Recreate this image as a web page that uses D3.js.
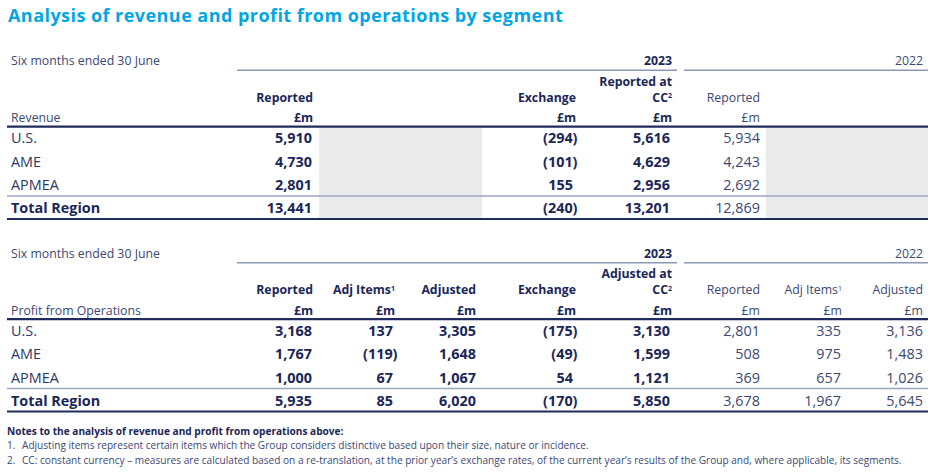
<!DOCTYPE html>
<html>
<head>
<meta charset="utf-8">
<script src="https://cdn.jsdelivr.net/npm/d3@7"></script>
<style>
  body { margin: 0; background: #fff; }
  svg text { font-family: "Open Sans", sans-serif; }
</style>
</head>
<body>
<svg id="chart" width="935" height="475"></svg>
<script>
// Data
var regions = ["U.S.", "AME", "APMEA", "Total Region"];

var revReported23 = [5910, 4730, 2801, 13441];
var revExchange23 = [-294, -101, 155, -240];
var revReportedCC23 = [5616, 4629, 2956, 13201];
var revReported22 = [5934, 4243, 2692, 12869];

var profReported23 = [3168, 1767, 1000, 5935];
var profAdjItems23 = [137, -119, 67, 85];
var profAdjusted23 = [3305, 1648, 1067, 6020];
var profExchange23 = [-175, -49, 54, -170];
var profAdjustedCC23 = [3130, 1599, 1121, 5850];
var profReported22 = [2801, 508, 369, 3678];
var profAdjItems22 = [335, 975, 657, 1967];
var profAdjusted22 = [3136, 1483, 1026, 5645];

var notes = [
    "Adjusting items represent certain items which the Group considers distinctive based upon their size, nature or incidence.",
    "CC: constant currency \u2013 measures are calculated based on a re-translation, at the prior year\u2019s exchange rates, of the current year\u2019s results of the Group and, where applicable, its segments."
];

var svg = d3.select('#chart');

var navy = '#1b2757', label = '#2c3862', light = '#3c4873';
var fmt = d3.format(',');
var fmtVal = (v) => v < 0 ? '(' + fmt(-v) + ')' : fmt(v);

// column slots: right edges of headers / numbers
var cols = ['rep', 'adj', 'adjd', 'exch', 'cc', 'rep22', 'adj22', 'adjd22'];
var headX = d3.scaleOrdinal().domain(cols).range([313, 395, 476, 576, 672, 760, 842, 923]);
var numX = d3.scaleOrdinal().domain(cols).range([312, 393, 476, 573, 670, 760, 841, 923]);
var rowY = d3.scaleLinear().domain([0, 3]).range([11.6, 81.6]);

svg.append('text')
    .attr('x', 8).attr('y', 21.7)
    .attr('fill', '#03a6e3')
    .style('font-size', '18px').style('font-weight', 700).style('letter-spacing', '0.45px')
    .text('Analysis of revenue and profit from operations by segment');

function drawTable(top, title, columns, shades) {
    var g = svg.append('g').attr('transform', 'translate(0,' + top + ')');

    // shading (behind everything)
    g.selectAll('rect.shade').data(shades).enter().append('rect')
        .attr('x', (d) => d[0]).attr('width', (d) => d[1] - d[0])
        .attr('y', 67).attr('height', 91)
        .attr('fill', '#ebebeb');

    // period header
    g.append('text').attr('x', 11).attr('y', 0).attr('dy', '0.35em')
        .attr('fill', light).style('font-size', '12.3px')
        .text('Six months ended 30 June');
    g.append('text').attr('x', 672).attr('y', 0).attr('dy', '0.35em')
        .attr('text-anchor', 'end').attr('fill', navy)
        .style('font-size', '12.3px').style('font-weight', 700).text('2023');
    g.append('text').attr('x', 923).attr('y', 0).attr('dy', '0.35em')
        .attr('text-anchor', 'end').attr('fill', light)
        .style('font-size', '12.3px').text('2022');
    g.append('line').attr('x1', 237).attr('x2', 677).attr('y1', 9.3).attr('y2', 9.3)
        .attr('stroke', '#8d97b6').attr('stroke-width', 1.5);
    g.append('line').attr('x1', 684).attr('x2', 928).attr('y1', 9.3).attr('y2', 9.3)
        .attr('stroke', '#8d97b6').attr('stroke-width', 1.5);

    g.append('text').attr('x', 11).attr('y', 56.7).attr('dy', '0.35em')
        .attr('fill', light).style('font-size', '12.3px').text(title);

    // column headers
    var heads = g.selectAll('g.col').data(columns).enter().append('g').attr('class', 'col');
    heads.each(function(c) {
        var h = d3.select(this);
        var weight = c.bold ? 700 : 400, colour = c.bold ? navy : light;
        c.head.forEach(function(line, i) {
            var t = h.append('text')
                .attr('x', headX(c.key))
                .attr('y', 36.3 - (c.head.length - 1 - i) * 16)
                .attr('dy', '0.35em').attr('text-anchor', 'end')
                .attr('fill', colour).style('font-size', '12.3px').style('font-weight', weight);
            t.append('tspan').text(line.text);
            if (line.sup)
                t.append('tspan').attr('dy', '-0.45em').style('font-size', '7px').text(line.sup);
        });
        h.append('text').attr('x', headX(c.key)).attr('y', 56.7).attr('dy', '0.35em')
            .attr('text-anchor', 'end').attr('fill', colour)
            .style('font-size', '12.3px').style('font-weight', weight).text('\u00a3m');

        // values
        h.selectAll('text.val').data(c.values).enter().append('text').classed('val', true)
            .attr('x', (d) => numX(c.key) + (d < 0 ? 4.5 : 0))
            .attr('y', (d, i) => 65.7 + rowY(i)).attr('dy', '0.35em')
            .attr('text-anchor', 'end').attr('fill', colour)
            .style('font-size', '14.4px').style('font-weight', weight)
            .text(fmtVal);
    });

    // row labels
    g.selectAll('text.row').data(regions).enter().append('text')
        .attr('x', 11).attr('y', (d, i) => 65.7 + rowY(i)).attr('dy', '0.35em')
        .attr('fill', (d, i) => i === 3 ? navy : label)
        .style('font-size', '14.4px').style('font-weight', (d, i) => i === 3 ? 700 : 400)
        .text((d) => d);

    // rules
    g.append('line').attr('x1', 7).attr('x2', 928).attr('y1', 65.7).attr('y2', 65.7)
        .attr('stroke', '#1f2b5a').attr('stroke-width', 2.2);
    g.append('line').attr('x1', 7).attr('x2', 928).attr('y1', 135).attr('y2', 135)
        .attr('stroke', '#9ca5c0').attr('stroke-width', 1.5);
    g.append('line').attr('x1', 7).attr('x2', 928).attr('y1', 158).attr('y2', 158)
        .attr('stroke', '#1f2b5a').attr('stroke-width', 2.2);
}

drawTable(61, 'Revenue', [
    {key: 'rep', bold: true, head: [{text: 'Reported'}], values: revReported23},
    {key: 'exch', bold: true, head: [{text: 'Exchange'}], values: revExchange23},
    {key: 'cc', bold: true, head: [{text: 'Reported at'}, {text: 'CC', sup: '2'}], values: revReportedCC23},
    {key: 'rep22', bold: false, head: [{text: 'Reported'}], values: revReported22}
], [[319, 482], [766, 928]]);

drawTable(253.5, 'Profit from Operations', [
    {key: 'rep', bold: true, head: [{text: 'Reported'}], values: profReported23},
    {key: 'adj', bold: true, head: [{text: 'Adj Items', sup: '1'}], values: profAdjItems23},
    {key: 'adjd', bold: true, head: [{text: 'Adjusted'}], values: profAdjusted23},
    {key: 'exch', bold: true, head: [{text: 'Exchange'}], values: profExchange23},
    {key: 'cc', bold: true, head: [{text: 'Adjusted at'}, {text: 'CC', sup: '2'}], values: profAdjustedCC23},
    {key: 'rep22', bold: false, head: [{text: 'Reported'}], values: profReported22},
    {key: 'adj22', bold: false, head: [{text: 'Adj Items', sup: '1'}], values: profAdjItems22},
    {key: 'adjd22', bold: false, head: [{text: 'Adjusted'}], values: profAdjusted22}
], []);

// notes
svg.append('text').attr('x', 7).attr('y', 431.5).attr('dy', '0.35em')
    .attr('fill', navy).style('font-size', '10.1px').style('font-weight', 700)
    .text('Notes to the analysis of revenue and profit from operations above:');
var noteRows = svg.selectAll('g.note').data(notes).enter().append('g')
    .attr('transform', (d, i) => 'translate(0,' + (445.7 + i * 14.5) + ')');
noteRows.append('text').attr('x', 7).attr('dy', '0.35em')
    .attr('fill', light).style('font-size', '10.1px').text((d, i) => (i + 1) + '.');
noteRows.append('text').attr('x', 22).attr('dy', '0.35em')
    .attr('fill', light).style('font-size', '10.1px').text((d) => d);
</script>
</body>
</html>
